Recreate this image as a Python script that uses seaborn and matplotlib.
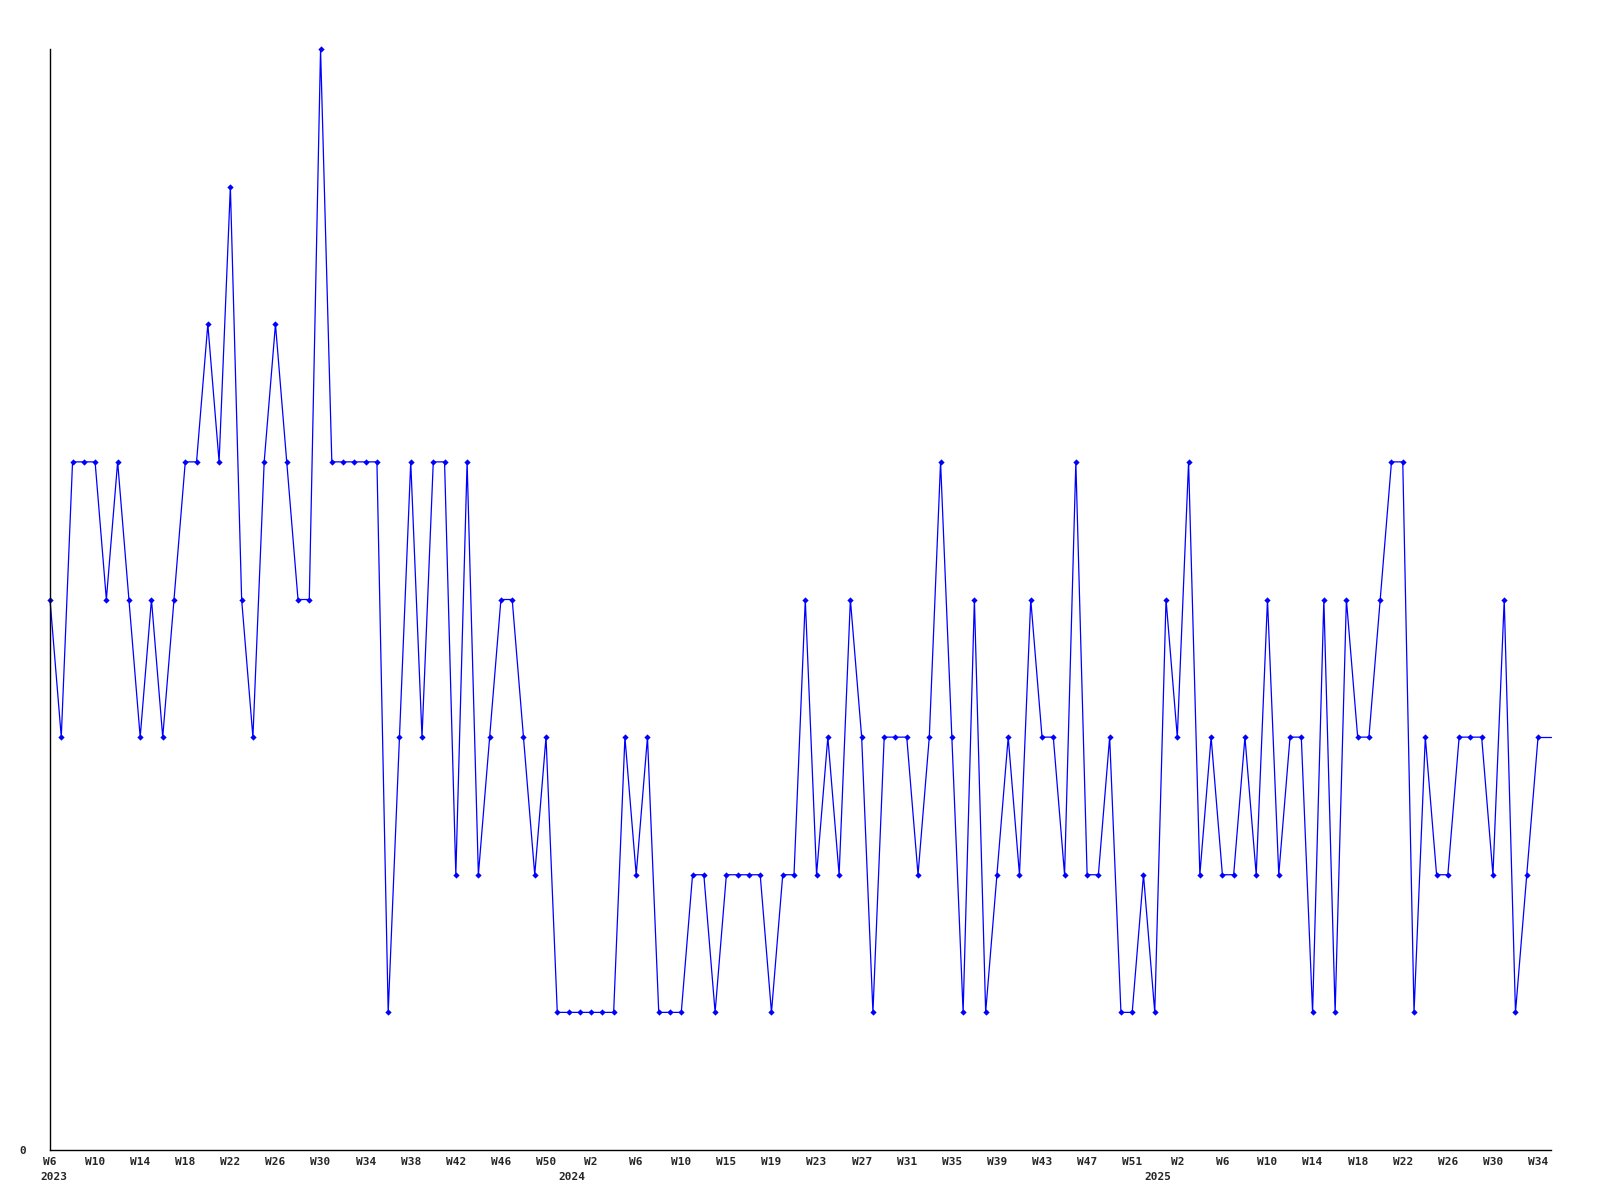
import seaborn as sns
import matplotlib.pyplot as plt
import numpy as np

# weekly values, W6 2023 .. W34 2025
values = [
    4, 3, 5, 5, 5, 4, 5, 4, 3, 4, 3, 4, 5, 5, 6, 5, 7, 4, 3, 5, 6, 5, 4, 4,
    8, 5, 5, 5, 5, 5, 1, 3, 5, 3, 5, 5, 2, 5, 2, 3, 4, 4, 3, 2, 3, 1, 1,
    1, 1, 1, 1, 3, 2, 3, 1, 1, 1, 2, 2, 1, 2, 2, 2, 2, 1, 2, 2, 4, 2, 3,
    2, 4, 3, 1, 3, 3, 3, 2, 3, 5, 3, 1, 4, 1, 2, 3, 2, 4, 3, 3, 2, 5, 2,
    2, 3, 1, 1, 2, 1, 4, 3, 5, 2, 3, 2, 2, 3, 2, 4, 2, 3, 3, 1, 4, 1, 4,
    3, 3, 4, 5, 5, 1, 3, 2, 2, 3, 3, 3, 2, 4, 1, 2, 3,
]

week_labels = [
    "W6", "W10", "W14", "W18", "W22", "W26", "W30", "W34", "W38", "W42", "W46", "W50",
    "W2", "W6", "W10", "W15", "W19", "W23", "W27", "W31", "W35", "W39", "W43", "W47", "W51",
    "W2", "W6", "W10", "W14", "W18", "W22", "W26", "W30", "W34",
]
years = ["2023", "2024", "2025"]
year_pos = [0.3, 46.3, 98.3]

x = np.arange(len(values))

sns.set_style("white")
plt.rcParams["font.family"] = ["DejaVu Sans Mono"]

fig = plt.figure(figsize=(16, 12), dpi=100)
ax = fig.add_axes([50 / 1600, 50 / 1200, 1501 / 1600, 1101 / 1200])

sns.lineplot(x=x, y=values, ax=ax, color="#0000ff", linewidth=0.9,
             marker="D", markersize=3.2, markeredgewidth=0)

# line carries on to the right edge
xmax = x[-1] + 1.15
ax.plot([x[-1], xmax], [values[-1], values[-1]], color="#0000ff", linewidth=0.9)
for ln in ax.lines:
    ln.set_clip_on(False)

ax.set_xlim(0, xmax)
ax.set_ylim(0, max(values))

ax.set_xticks(x[::4])
ax.set_xticklabels(week_labels, fontsize=8, fontweight="bold")
ax.set_yticks([0])
ax.set_yticklabels(["0"], fontsize=8, fontweight="bold")
ax.tick_params(axis="both", length=0)
ax.tick_params(axis="x", pad=5)
ax.tick_params(axis="y", pad=17)

for yr, p in zip(years, year_pos):
    ax.annotate(yr, xy=(p, 0), xycoords=ax.get_xaxis_transform(),
                xytext=(0, -16), textcoords="offset points",
                ha="center", va="top", fontsize=8, fontweight="bold")

for s in ["top", "right"]:
    ax.spines[s].set_visible(False)
for s in ["left", "bottom"]:
    ax.spines[s].set_color("black")
    ax.spines[s].set_linewidth(1)

fig.savefig("out.png", dpi=100)
